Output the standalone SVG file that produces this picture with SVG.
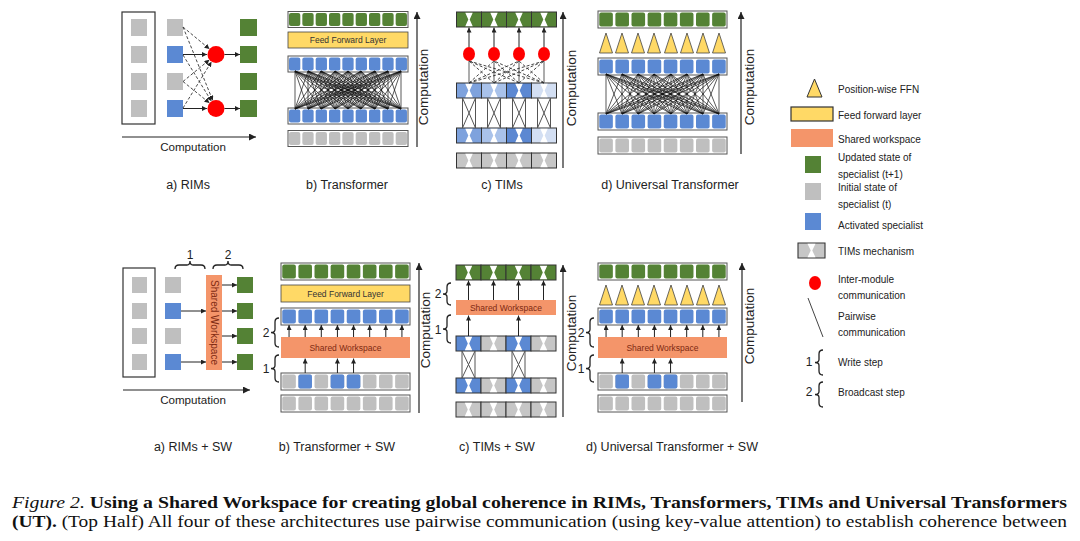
<svg xmlns="http://www.w3.org/2000/svg" width="1080" height="541" viewBox="0 0 1080 541">
<style>
text{font-family:"Liberation Sans",Arial,sans-serif;fill:#222}
.lbl{font-size:12.5px;text-anchor:middle}
.cmp{font-size:11.6px;text-anchor:middle}
.cmv{font-size:13.5px;text-anchor:middle}
.lg{font-size:10px}
.num{font-size:12px;text-anchor:middle}
.ffl{font-size:8.5px;text-anchor:middle;fill:#333}
.swt{font-size:8.5px;text-anchor:middle;fill:#7e2a12}
.cap{font-family:"Liberation Serif","Times New Roman",serif;font-size:17.5px;fill:#111}
.g{fill:#548235}
.gr{fill:#bfbfbf}
.b{fill:#5b89d3}
.yl{fill:#ffd966;stroke:#444;stroke-width:0.8}
.sw{fill:#f4956a}
.fr{fill:#fff;stroke:#555;stroke-width:1}
.red{fill:#f00}
.ax{stroke:#222;stroke-width:1.2;fill:none;marker-end:url(#ahc)}
.ar{stroke:#222;stroke-width:1;fill:none;marker-end:url(#ah)}
.dsh{stroke:#333;stroke-width:0.9;fill:none;stroke-dasharray:3 2}
.da{marker-end:url(#ah)}
.mesh{stroke:#111;stroke-width:0.7;fill:none}
.br{stroke:#222;stroke-width:1.3;fill:none}
.xc{stroke:#555;stroke-width:1;fill:none}
.tf{stroke:#333;stroke-width:1}
.sv{stroke:#777;stroke-width:1.2;fill:none}
</style>
<defs>
<marker id="ah" viewBox="0 0 10 10" refX="10" refY="5" markerWidth="5" markerHeight="5" orient="auto" markerUnits="userSpaceOnUse"><path d="M0,0L10,5L0,10Z" fill="#222"/></marker>
<marker id="ahc" viewBox="0 0 10 10" refX="10" refY="5" markerWidth="7" markerHeight="7" orient="auto" markerUnits="userSpaceOnUse"><path d="M0,0L10,5L0,10Z" fill="#222"/></marker>
<rect id="k9" width="11.3" height="13" rx="2"/>
<rect id="k8" width="13.6" height="14" rx="2"/>
<g id="R9"><rect class="fr" width="120" height="16"/><use href="#k9" x="1" y="1.5"/><use href="#k9" x="14.33" y="1.5"/><use href="#k9" x="27.67" y="1.5"/><use href="#k9" x="41" y="1.5"/><use href="#k9" x="54.33" y="1.5"/><use href="#k9" x="67.67" y="1.5"/><use href="#k9" x="81" y="1.5"/><use href="#k9" x="94.33" y="1.5"/><use href="#k9" x="107.67" y="1.5"/></g>
<g id="R8"><rect class="fr" width="129" height="17"/><use href="#k8" x="1.25" y="1.5"/><use href="#k8" x="17.38" y="1.5"/><use href="#k8" x="33.5" y="1.5"/><use href="#k8" x="49.63" y="1.5"/><use href="#k8" x="65.75" y="1.5"/><use href="#k8" x="81.88" y="1.5"/><use href="#k8" x="98" y="1.5"/><use href="#k8" x="114.13" y="1.5"/></g>
<g id="tc"><rect width="25" height="15" class="tf"/><path d="M8.8,0.8H16.2L13.2,7.5L16.2,14.2H8.8L11.8,7.5Z" fill="#fff"/></g>
<g id="T4"><use href="#tc"/><use href="#tc" x="25"/><use href="#tc" x="50"/><use href="#tc" x="75"/></g>
<path id="x30" class="xc" d="M-6.5,0V30M6.5,0V30M-6.5,0L6.5,30M6.5,0L-6.5,30"/>
<path id="x27" class="xc" d="M-6.5,0V27M6.5,0V27M-6.5,0L6.5,27M6.5,0L-6.5,27"/>
<polygon id="tri" class="yl" points="-6.5,20 6.5,20 0,0"/>
</defs>
<rect width="1080" height="541" fill="#fff"/>

<g id="rims">
<rect x="122" y="12" width="33" height="112" fill="none" stroke="#333" stroke-width="1.2"/>
<rect class="gr" x="131" y="19" width="16" height="17"/><rect class="gr" x="131" y="46" width="16" height="17"/><rect class="gr" x="131" y="73" width="16" height="17"/><rect class="gr" x="131" y="100" width="16" height="17"/>
<rect class="gr" x="167" y="19" width="16" height="17"/><rect class="b" x="167" y="46" width="16" height="17"/><rect class="gr" x="167" y="73" width="16" height="17"/><rect class="b" x="167" y="100" width="16" height="17"/>
<circle class="red" cx="216" cy="54.5" r="8.5"/><circle class="red" cx="216" cy="108.5" r="8.5"/>
<rect class="g" x="240" y="19" width="17" height="17"/><rect class="g" x="240" y="46" width="17" height="17"/><rect class="g" x="240" y="73" width="17" height="17"/><rect class="g" x="240" y="100" width="17" height="17"/>
<text class="cmp" x="193" y="151">Computation</text>
<text class="lbl" x="188" y="189">a) RIMs</text>
</g>

<g id="transformer">
<use href="#R9" x="288" y="11.5" class="g"/>
<rect class="yl" x="288" y="32" width="120" height="16"/>
<text class="ffl" x="348" y="43">Feed Forward Layer</text>
<use href="#R9" x="288" y="56" class="b"/>
<use href="#R9" x="288" y="108" class="b"/>
<use href="#R9" x="288" y="130.5" class="gr"/>
<text class="cmv" transform="translate(428,87) rotate(-90)">Computation</text>
<text class="lbl" x="347" y="189">b) Transformer</text>
</g>

<g id="tims">
<use href="#T4" x="456.5" y="12" class="g"/>
<ellipse class="red" cx="469" cy="54" rx="6" ry="7"/><ellipse class="red" cx="494" cy="54" rx="6" ry="7"/><ellipse class="red" cx="519" cy="54" rx="6" ry="7"/><ellipse class="red" cx="544" cy="54" rx="6" ry="7"/>
<use href="#tc" x="456.5" y="83" fill="#7ea2dd"/><use href="#tc" x="481.5" y="83" fill="#a9c2ea"/><use href="#tc" x="506.5" y="83" fill="#5c88d2"/><use href="#tc" x="531.5" y="83" fill="#d3dff3"/>
<use href="#tc" x="456.5" y="128" fill="#7ea2dd"/><use href="#tc" x="481.5" y="128" fill="#a9c2ea"/><use href="#tc" x="506.5" y="128" fill="#5c88d2"/><use href="#tc" x="531.5" y="128" fill="#d3dff3"/>
<use href="#T4" x="456.5" y="153" fill="#c6c6c6"/>
<text class="cmv" transform="translate(576,88) rotate(-90)">Computation</text>
<text class="lbl" x="502" y="189">c) TIMs</text>
</g>

<g id="ut">
<use href="#R8" x="598" y="11" class="g"/>
<use href="#tri" x="606" y="33"/><use href="#tri" x="622" y="33"/><use href="#tri" x="638" y="33"/><use href="#tri" x="654" y="33"/><use href="#tri" x="671" y="33"/><use href="#tri" x="687" y="33"/><use href="#tri" x="703" y="33"/><use href="#tri" x="719" y="33"/>
<use href="#R8" x="598" y="58" class="b"/>
<use href="#R8" x="598" y="113" class="b"/>
<use href="#R8" x="598" y="137" class="gr"/>
<text class="cmv" transform="translate(754,87) rotate(-90)">Computation</text>
<text class="lbl" x="670" y="189">d) Universal Transformer</text>
</g>

<g id="legend">
<polygon class="yl" points="807,97 822,97 814.5,79" style="stroke:#333;stroke-width:1"/>
<text class="lg" x="838" y="92.5">Position-wise FFN</text>
<rect x="791" y="107" width="42" height="14" fill="#ffd966" stroke="#333" stroke-width="1.2"/>
<text class="lg" x="838" y="118.5">Feed forward layer</text>
<rect class="sw" x="791" y="129" width="42" height="18"/>
<text class="lg" x="838" y="142.5">Shared workspace</text>
<rect class="g" x="805" y="156" width="16" height="17"/>
<text class="lg" x="838" y="160.5">Updated state of</text>
<text class="lg" x="838" y="177.5">specialist (t+1)</text>
<rect class="gr" x="805" y="183" width="16" height="17"/>
<text class="lg" x="838" y="190.5">Initial state of</text>
<text class="lg" x="838" y="207.5">specialist (t)</text>
<rect class="b" x="805" y="213" width="16" height="17"/>
<text class="lg" x="838" y="228.5">Activated specialist</text>
<use href="#tc" transform="translate(798,243) scale(1.08,1)" fill="#c6c6c6"/>
<text class="lg" x="838" y="254.5">TIMs mechanism</text>
<ellipse class="red" cx="815" cy="283" rx="6" ry="7"/>
<text class="lg" x="838" y="282.5">Inter-module</text>
<text class="lg" x="838" y="298.5">communication</text>
<line x1="808" y1="298" x2="823" y2="337" stroke="#444" stroke-width="1"/>
<text class="lg" x="838" y="319.5">Pairwise</text>
<text class="lg" x="838" y="335.5">communication</text>
<text class="num" x="809" y="366">1</text>
<path class="br" d="M823,350Q819,350 819,354V359.5Q819,362.5 815,362.5Q819,362.5 819,365.5V371Q819,375 823,375"/>
<text class="lg" x="838" y="365.5">Write step</text>
<text class="num" x="809" y="396">2</text>
<path class="br" d="M823,382Q819,382 819,386V391.5Q819,394.5 815,394.5Q819,394.5 819,397.5V403Q819,407 823,407"/>
<text class="lg" x="838" y="395.5">Broadcast step</text>
</g>

<g id="rims-sw">
<rect x="123" y="268" width="32" height="109" fill="none" stroke="#333" stroke-width="1.2"/>
<rect class="gr" x="132" y="277" width="15" height="16"/><rect class="gr" x="132" y="303" width="15" height="16"/><rect class="gr" x="132" y="328" width="15" height="16"/><rect class="gr" x="132" y="354" width="15" height="16"/>
<rect class="gr" x="165" y="277" width="16" height="16"/><rect class="b" x="165" y="303" width="16" height="16"/><rect class="gr" x="165" y="328" width="16" height="16"/><rect class="b" x="165" y="354" width="16" height="16"/>
<rect class="sw" x="206" y="275" width="16" height="95"/>
<text class="swt" style="font-size:10px" transform="translate(211,322.5) rotate(90)">Shared Workspace</text>
<rect class="g" x="237" y="277" width="16" height="16"/><rect class="g" x="237" y="303" width="16" height="16"/><rect class="g" x="237" y="328" width="16" height="16"/><rect class="g" x="237" y="354" width="16" height="16"/>
<text class="num" x="190" y="259">1</text>
<path class="br" d="M175,269Q175,265 179,265H187Q190,265 190,261Q190,265 193,265H201Q205,265 205,269"/>
<text class="num" x="228" y="259">2</text>
<path class="br" d="M213,269Q213,265 217,265H225Q228,265 228,261Q228,265 231,265H239Q243,265 243,269"/>
<text class="cmp" x="193" y="404">Computation</text>
<text class="lbl" x="193" y="451">a) RIMs + SW</text>
</g>

<g id="transformer-sw">
<use href="#R8" x="281" y="263" class="g"/>
<rect class="yl" x="281" y="285" width="129" height="17"/>
<text class="ffl" x="345.5" y="296.5">Feed Forward Layer</text>
<use href="#R8" x="281" y="308" class="b"/>
<rect class="sw" x="281" y="337" width="129" height="21"/>
<text class="swt" x="345.5" y="350.5">Shared Workspace</text>
<use href="#R8" x="281" y="373" class="gr"/>
<use href="#k8" x="298.38" y="374.5" class="b"/><use href="#k8" x="330.63" y="374.5" class="b"/><use href="#k8" x="346.75" y="374.5" class="b"/>
<use href="#R8" x="281" y="395" class="gr"/>
<text class="num" x="266" y="337">2</text>
<path class="br" d="M279,318Q275,318 275,322V329.5Q275,332.5 271,332.5Q275,332.5 275,335.5V343Q275,347 279,347"/>
<text class="num" x="266" y="373">1</text>
<path class="br" d="M279,355Q275,355 275,359V365.5Q275,368.5 271,368.5Q275,368.5 275,371.5V378Q275,382 279,382"/>
<text class="cmv" transform="translate(430,330) rotate(-90)">Computation</text>
<text class="lbl" x="337" y="451">b) Transformer + SW</text>
</g>

<g id="tims-sw">
<use href="#T4" x="456" y="265" class="g"/>
<rect class="sw" x="456" y="300" width="100" height="15"/>
<text class="swt" x="506" y="310.5">Shared Workspace</text>
<use href="#tc" x="456" y="336" class="b"/><use href="#tc" x="481" y="336" fill="#c6c6c6"/><use href="#tc" x="506" y="336" class="b"/><use href="#tc" x="531" y="336" fill="#c6c6c6"/>
<use href="#tc" x="456" y="378" class="b"/><use href="#tc" x="481" y="378" fill="#c6c6c6"/><use href="#tc" x="506" y="378" class="b"/><use href="#tc" x="531" y="378" fill="#c6c6c6"/>
<use href="#T4" x="456" y="402" fill="#c6c6c6"/>
<text class="num" x="438" y="298">2</text>
<path class="br" d="M451,283Q447,283 447,287V291Q447,294 443,294Q447,294 447,297V301Q447,305 451,305"/>
<text class="num" x="438" y="334">1</text>
<path class="br" d="M451,315Q447,315 447,319V326Q447,329 443,329Q447,329 447,332V339Q447,343 451,343"/>
<text class="cmv" transform="translate(576,333) rotate(-90)">Computation</text>
<text class="lbl" x="497" y="451">c) TIMs + SW</text>
</g>

<g id="ut-sw">
<use href="#R8" x="598" y="263" class="g"/>
<use href="#tri" x="606" y="285"/><use href="#tri" x="622" y="285"/><use href="#tri" x="638" y="285"/><use href="#tri" x="654" y="285"/><use href="#tri" x="671" y="285"/><use href="#tri" x="687" y="285"/><use href="#tri" x="703" y="285"/><use href="#tri" x="719" y="285"/>
<use href="#R8" x="598" y="308" class="b"/>
<rect class="sw" x="598" y="337" width="129" height="21"/>
<text class="swt" x="662.5" y="350.5">Shared Workspace</text>
<use href="#R8" x="598" y="373" class="gr"/>
<use href="#k8" x="615.38" y="374.5" class="b"/><use href="#k8" x="647.63" y="374.5" class="b"/><use href="#k8" x="663.75" y="374.5" class="b"/>
<use href="#R8" x="598" y="395" class="gr"/>
<text class="num" x="581" y="337">2</text>
<path class="br" d="M594,318Q590,318 590,322V329.5Q590,332.5 586,332.5Q590,332.5 590,335.5V343Q590,347 594,347"/>
<text class="num" x="581" y="373">1</text>
<path class="br" d="M594,355Q590,355 590,359V365.5Q590,368.5 586,368.5Q590,368.5 590,371.5V378Q590,382 594,382"/>
<text class="cmv" transform="translate(754,326) rotate(-90)">Computation</text>
<text class="lbl" x="672" y="451">d) Universal Transformer + SW</text>
</g>

<g id="connectors">
<path class="ar" d="M183,54.5H207"/><path class="ar" d="M224.5,54.5H240"/>
<path class="ar" d="M183,108.5H207"/><path class="ar" d="M224.5,108.5H240"/>
<path class="dsh da" d="M183,27L209.5,49"/><path class="dsh da" d="M183,27L212.8,100.6"/>
<path class="dsh da" d="M183,81.5L209.4,59.8"/><path class="dsh da" d="M183,81.5L209.5,103"/>
<path class="dsh da" d="M183,55L211.5,101.3"/><path class="dsh da" d="M183,108L211.5,61.7"/>
<path class="ax" d="M122,137H256"/>

<path class="mesh" d="M295 71L295 109M295 71L308 109M295 71L321 109M295 71L335 109M295 71L348 109M295 71L361 109M295 71L375 109M295 71L388 109M295 71L401 109M308 71L295 109M308 71L308 109M308 71L321 109M308 71L335 109M308 71L348 109M308 71L361 109M308 71L375 109M308 71L388 109M308 71L401 109M321 71L295 109M321 71L308 109M321 71L321 109M321 71L335 109M321 71L348 109M321 71L361 109M321 71L375 109M321 71L388 109M321 71L401 109M335 71L295 109M335 71L308 109M335 71L321 109M335 71L335 109M335 71L348 109M335 71L361 109M335 71L375 109M335 71L388 109M335 71L401 109M348 71L295 109M348 71L308 109M348 71L321 109M348 71L335 109M348 71L348 109M348 71L361 109M348 71L375 109M348 71L388 109M348 71L401 109M361 71L295 109M361 71L308 109M361 71L321 109M361 71L335 109M361 71L348 109M361 71L361 109M361 71L375 109M361 71L388 109M361 71L401 109M375 71L295 109M375 71L308 109M375 71L321 109M375 71L335 109M375 71L348 109M375 71L361 109M375 71L375 109M375 71L388 109M375 71L401 109M388 71L295 109M388 71L308 109M388 71L321 109M388 71L335 109M388 71L348 109M388 71L361 109M388 71L375 109M388 71L388 109M388 71L401 109M401 71L295 109M401 71L308 109M401 71L321 109M401 71L335 109M401 71L348 109M401 71L361 109M401 71L375 109M401 71L388 109M401 71L401 109"/>
<path class="ax" d="M417,147V12"/>

<path class="ar" d="M469,47V27.5"/><path class="ar" d="M494,47V27.5"/><path class="ar" d="M519,47V27.5"/><path class="ar" d="M544,47V27.5"/>
<path class="sv" d="M469,83V61M494,83V61M519,83V61M544,83V61"/>
<path class="dsh" d="M494,83L469,61M519,83L469,61M544,83L469,61M469,83L494,61M519,83L494,61M544,83L494,61M469,83L519,61M494,83L519,61M544,83L519,61M469,83L544,61M494,83L544,61M519,83L544,61"/>
<use href="#x30" x="469" y="98"/><use href="#x30" x="494" y="98"/><use href="#x30" x="519" y="98"/><use href="#x30" x="544" y="98"/>
<path class="ax" d="M563,168V12"/>

<path class="mesh" d="M606 74L606 114M606 74L622 114M606 74L638 114M606 74L654 114M606 74L671 114M606 74L687 114M606 74L703 114M606 74L719 114M622 74L606 114M622 74L622 114M622 74L638 114M622 74L654 114M622 74L671 114M622 74L687 114M622 74L703 114M622 74L719 114M638 74L606 114M638 74L622 114M638 74L638 114M638 74L654 114M638 74L671 114M638 74L687 114M638 74L703 114M638 74L719 114M654 74L606 114M654 74L622 114M654 74L638 114M654 74L654 114M654 74L671 114M654 74L687 114M654 74L703 114M654 74L719 114M671 74L606 114M671 74L622 114M671 74L638 114M671 74L654 114M671 74L671 114M671 74L687 114M671 74L703 114M671 74L719 114M687 74L606 114M687 74L622 114M687 74L638 114M687 74L654 114M687 74L671 114M687 74L687 114M687 74L703 114M687 74L719 114M703 74L606 114M703 74L622 114M703 74L638 114M703 74L654 114M703 74L671 114M703 74L687 114M703 74L703 114M703 74L719 114M719 74L606 114M719 74L622 114M719 74L638 114M719 74L654 114M719 74L671 114M719 74L687 114M719 74L703 114M719 74L719 114"/>
<path class="ax" d="M741,154V12"/>

<path class="ar" d="M181,311H206"/><path class="ar" d="M181,362H206"/>
<path class="ar" d="M222,285H237"/><path class="ar" d="M222,311H237"/><path class="ar" d="M222,336H237"/><path class="ar" d="M222,362H237"/>
<path class="ax" d="M123,390H250"/>

<path class="ar" d="M289.05,337V325"/><path class="ar" d="M305.18,337V325"/><path class="ar" d="M321.3,337V325"/><path class="ar" d="M337.43,337V325"/><path class="ar" d="M353.55,337V325"/><path class="ar" d="M369.68,337V325"/><path class="ar" d="M385.8,337V325"/><path class="ar" d="M401.93,337V325"/>
<path class="ar" d="M305.18,373V358.5"/><path class="ar" d="M337.43,373V358.5"/><path class="ar" d="M353.55,373V358.5"/>
<path class="ax" d="M419,413V263"/>

<path class="ar" d="M468.5,300V280.5"/><path class="ar" d="M493.5,300V280.5"/><path class="ar" d="M518.5,300V280.5"/><path class="ar" d="M543.5,300V280.5"/>
<path class="ar" d="M468.5,336V315.5"/><path class="ar" d="M518.5,336V315.5"/>
<use href="#x27" x="468.5" y="351"/><use href="#x27" x="518.5" y="351"/>
<path class="ax" d="M563,417V265"/>

<path class="ar" d="M606.05,337V325"/><path class="ar" d="M622.18,337V325"/><path class="ar" d="M638.3,337V325"/><path class="ar" d="M654.43,337V325"/><path class="ar" d="M670.55,337V325"/><path class="ar" d="M686.68,337V325"/><path class="ar" d="M702.8,337V325"/><path class="ar" d="M718.93,337V325"/>
<path class="ar" d="M622.18,373V358.5"/><path class="ar" d="M654.43,373V358.5"/><path class="ar" d="M670.55,373V358.5"/>
<path class="ax" d="M742,402V263"/>
</g>

<g id="caption">
<text class="cap" x="12" y="507.5" textLength="1055" lengthAdjust="spacingAndGlyphs"><tspan font-style="italic">Figure 2.</tspan> <tspan font-weight="bold">Using a Shared Workspace for creating global coherence in RIMs, Transformers, TIMs and Universal Transformers</tspan></text>
<text class="cap" x="12" y="527" textLength="1055" lengthAdjust="spacingAndGlyphs"><tspan font-weight="bold">(UT).</tspan> (Top Half) All four of these architectures use pairwise communication (using key-value attention) to establish coherence between</text>
</g>
</svg>
